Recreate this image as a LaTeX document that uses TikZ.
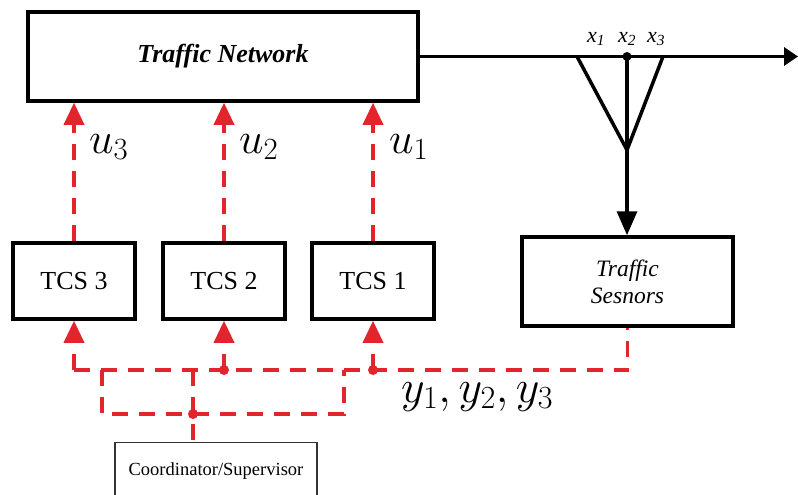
\RequirePackage{fix-cm}
\documentclass[tikz,border=0pt]{standalone}
\usepackage{fontspec}
\setmainfont{Liberation Serif}
\usetikzlibrary{arrows.meta}
\definecolor{ared}{RGB}{226,36,44}
\begin{document}
\begin{tikzpicture}[x=1pt,y=-1pt,
  blk/.style={draw=black, line width=3.5pt, inner sep=0pt},
  tcsbox/.style={blk, minimum width=122pt, minimum height=76pt, font=\fontsize{26}{30}\selectfont},
  reddash/.style={draw=ared, line width=3.5pt, dash pattern=on 16pt off 11pt},
  redtip/.style={-{Triangle[width=20pt,length=22pt]}},
  blkline/.style={draw=black, line width=3.5pt},
  lab/.style={inner sep=0pt, anchor=base west}
]
\useasboundingbox (0,0) rectangle (798,495);

% boxes
\node[blk, minimum width=390pt, minimum height=89pt, font=\fontsize{26}{30}\selectfont\bfseries\itshape] (tn) at (223,56.5) {Traffic Network};
\node[tcsbox] (tcs3) at (74,281) {TCS 3};
\node[tcsbox] (tcs2) at (224,281) {TCS 2};
\node[tcsbox] (tcs1) at (373,281) {TCS 1};
\node[blk, minimum width=211pt, minimum height=89pt, align=center, font=\fontsize{23.5}{27}\selectfont\itshape] (ts) at (627.5,281.5) {Traffic\\Sesnors};
\node[draw=black!80, line width=1.3pt, minimum width=202pt, minimum height=56pt, anchor=north, inner sep=0pt, font=\fontsize{18.5}{22}\selectfont] (coord) at (216,442) {Coordinator/Supervisor};

% control arrows
\draw[reddash, redtip] (tcs3.north) -- (tcs3.north |- tn.south);
\draw[reddash, redtip] (tcs2.north) -- (tcs2.north |- tn.south);
\draw[reddash, redtip] (tcs1.north) -- (tcs1.north |- tn.south);
\node[lab, font=\fontsize{44}{50}\selectfont] (u3) at (89,153) {$u_3$};
\node[lab, font=\fontsize{44}{50}\selectfont] (u2) at (239,153) {$u_2$};
\node[lab, font=\fontsize{44}{50}\selectfont] (u1) at (389,153) {$u_1$};

% output line and sensors
\coordinate (outend) at (798,56.5);
\coordinate (jn) at (627,56.5);
\coordinate (tl) at (577,56.5);
\coordinate (tr) at (663,56.5);
\coordinate (apex) at (627,150);
\draw[blkline, -{Triangle[width=18pt,length=14pt]}] (tn.east) -- (outend);
\draw[blkline, line join=miter] (tl) -- (apex) -- (tr);
\draw[blkline, -{Triangle[width=20pt,length=24pt]}] (jn) -- (jn |- ts.north);
\fill[black] (jn) circle (4.5pt);
\node[inner sep=0pt, font=\fontsize{22}{24}\selectfont\itshape] (x1) at (596,39) {x\textsubscript{1}};
\node[inner sep=0pt, font=\fontsize{22}{24}\selectfont\itshape] (x2) at (627,39) {x\textsubscript{2}};
\node[inner sep=0pt, font=\fontsize{22}{24}\selectfont\itshape] (x3) at (656,39) {x\textsubscript{3}};

% feedback bus
\coordinate (bus) at (0,370);
\draw[reddash] (tcs3.south |- bus) -- (ts.south |- bus) -- (ts.south);
\draw[reddash, redtip] (tcs3.south |- bus) -- (tcs3.south);
\draw[reddash, redtip] (tcs2.south |- bus) -- (tcs2.south);
\draw[reddash, redtip] (tcs1.south |- bus) -- (tcs1.south);
\fill[ared] (tcs2.south |- bus) circle (5pt);
\fill[ared] (tcs1.south |- bus) circle (5pt);
\node[lab, font=\fontsize{46}{52}\selectfont] (ylab) at (401,402) {$y_1,y_2,y_3$};

% coordinator links
\coordinate (ul) at (102,370);
\coordinate (ur) at (344,370);
\coordinate (ll) at (102,414);
\coordinate (lr) at (344,414);
\coordinate (cv) at (193,370);
\coordinate (cj) at (193,414);
\draw[reddash] (ul) -- (ll) -- (lr) -- (ur);
\draw[reddash] (cv) -- (cv |- coord.north);
\fill[ared] (cj) circle (5pt);
\end{tikzpicture}
\end{document}
